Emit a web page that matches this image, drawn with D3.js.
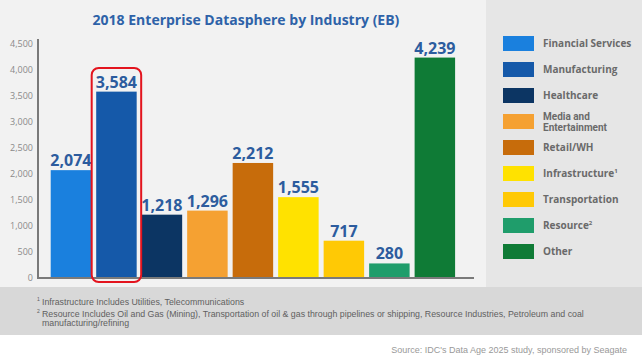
<!DOCTYPE html>
<html>
<head>
<meta charset="utf-8">
<script src="https://cdn.jsdelivr.net/npm/d3@7"></script>
<style>
  body { margin: 0; background: #ffffff; }
  svg { display: block; }
  .ytick text { font-family: "Open Sans", sans-serif; font-size: 9px; fill: #8a8a8a; }
  .vlabel { font-family: "Open Sans", sans-serif; font-weight: 700; font-size: 16px; fill: #2c5c9e; }
  .legend { font-family: "Open Sans", sans-serif; font-weight: 700; font-size: 10px; fill: #6a6a6a; }
  .legend2 { font-family: Roboto, sans-serif; font-weight: 700; font-size: 10px; fill: #6a6a6a; }
  .note { font-family: "Liberation Sans", sans-serif; font-size: 8.8px; fill: #606060; }
</style>
</head>
<body>
<div id="chart"></div>
<script>
var industries = ["Financial Services", "Manufacturing", "Healthcare", "Media and Entertainment",
  "Retail/WH", "Infrastructure", "Transportation", "Resource", "Other"];
var values = [2074, 3584, 1218, 1296, 2212, 1555, 717, 280, 4239];
var colors = ["#1a80de", "#1559a9", "#0c3563", "#f5a132", "#c76c0b", "#ffe200", "#ffc905", "#1f9d6b", "#0f7b36"];
var legend_lines = [["Financial Services"], ["Manufacturing"], ["Healthcare"], ["Media and", "Entertainment"],
  ["Retail/WH"], ["Infrastructure", "1"], ["Transportation"], ["Resource", "2"], ["Other"]];
var y_ticks = [0, 500, 1000, 1500, 2000, 2500, 3000, 3500, 4000, 4500];
var highlight = "Manufacturing";

var w = 642, h = 362;

var svg = d3.select("#chart")
  .append("svg")
    .attr("width", w)
    .attr("height", h);

// backgrounds
svg.append("rect").attr("x", 0).attr("y", 0).attr("width", w).attr("height", 287).attr("fill", "#f2f2f2");
svg.append("rect").attr("x", 486).attr("y", 0).attr("width", w - 486).attr("height", 287).attr("fill", "#e6e6e6");
svg.append("rect").attr("x", 0).attr("y", 287).attr("width", w).attr("height", 48).attr("fill", "#d8d8d8");

// title
svg.append("text")
  .attr("x", 246).attr("y", 25)
  .attr("text-anchor", "middle")
  .style("font-family", "'Open Sans', sans-serif")
  .style("font-weight", 700)
  .style("font-size", "14px")
  .style("fill", "#2e62a8")
  .text("2018 Enterprise Datasphere by Industry (EB)");

// scales
var x = d3.scaleBand()
  .domain(industries)
  .range([48.2, 457.6])
  .paddingInner(0.11)
  .paddingOuter(0.055);

var y = d3.scaleLinear()
  .domain([0, 4500])
  .range([278, 44]);

// y axis
var yaxis = svg.append("g")
  .attr("class", "ytick")
  .attr("transform", "translate(38,0)")
  .call(d3.axisLeft(y).tickValues(y_ticks).tickSize(0).tickPadding(5).tickFormat(d3.format(",")));
yaxis.select(".domain").remove();

svg.append("line")
  .attr("x1", 38).attr("x2", 38)
  .attr("y1", 39).attr("y2", y(0) + 1)
  .attr("stroke", "#7a7a7a").attr("stroke-width", 2);

// bars
svg.append("g")
  .selectAll("rect")
  .data(values)
  .enter().append("rect")
    .attr("x", function(d, i) { return x(industries[i]); })
    .attr("y", function(d) { return y(d); })
    .attr("width", x.bandwidth())
    .attr("height", function(d) { return y(0) - y(d); })
    .attr("fill", function(d, i) { return colors[i]; });

// baseline
svg.append("line")
  .attr("x1", 37).attr("x2", 474)
  .attr("y1", y(0)).attr("y2", y(0))
  .attr("stroke", "#7a7a7a").attr("stroke-width", 2);

// value labels
svg.append("g")
  .selectAll("text")
  .data(values)
  .enter().append("text")
    .attr("class", "vlabel")
    .attr("x", function(d, i) { return x(industries[i]) + x.bandwidth() / 2; })
    .attr("y", function(d) { return y(d) - 4; })
    .attr("text-anchor", "middle")
    .text(function(d) { return d3.format(",")(d); });

// highlight box
svg.append("rect")
  .attr("x", x(highlight) - 4.5)
  .attr("y", 68)
  .attr("width", x.bandwidth() + 9)
  .attr("height", 214)
  .attr("rx", 7)
  .attr("fill", "none")
  .attr("stroke", "#e3141e")
  .attr("stroke-width", 2);

// <-- LEGEND -------------
var legendStep = 26;
industries.forEach(function(d, i) {
  var ly = 36 + i * legendStep;
  svg.append("rect")
    .attr("x", 503).attr("y", ly)
    .attr("width", 31).attr("height", 15)
    .attr("fill", colors[i]);
  var lines = legend_lines[i];
  if (lines.length == 2 && lines[1].length == 1) {
    var t = svg.append("text").attr("class", "legend").attr("x", 543).attr("y", ly + 11).text(lines[0]);
    t.append("tspan").attr("dy", -4).style("font-size", "6px").text(lines[1]);
  } else if (lines.length == 2) {
    svg.append("text").attr("class", "legend2")
      .attr("x", 543).attr("y", ly + 5.5).text(lines[0]);
    svg.append("text").attr("class", "legend2")
      .attr("x", 543).attr("y", ly + 17.4).text(lines[1]);
  } else {
    svg.append("text").attr("class", "legend").attr("x", 543).attr("y", ly + 11).text(lines[0]);
  }
});
// -- LEGEND ------------->

// footnotes
var notes = svg.append("g").attr("class", "note");
notes.append("text").attr("x", 37).attr("y", 301).style("font-size", "5px").text("1");
notes.append("text").attr("x", 42).attr("y", 305).text("Infrastructure Includes Utilities, Telecommunications");
notes.append("text").attr("x", 37).attr("y", 313).style("font-size", "5px").text("2");
notes.append("text").attr("x", 42).attr("y", 316.5).text("Resource Includes Oil and Gas (Mining), Transportation of oil & gas through pipelines or shipping, Resource Industries, Petroleum and coal");
notes.append("text").attr("x", 42).attr("y", 325.5).text("manufacturing/refining");

svg.append("text")
  .attr("class", "note")
  .attr("x", 627).attr("y", 353)
  .attr("text-anchor", "end")
  .style("fill", "#999999")
  .style("font-size", "9px")
  .text("Source: IDC's Data Age 2025 study, sponsored by Seagate");
</script>
</body>
</html>
